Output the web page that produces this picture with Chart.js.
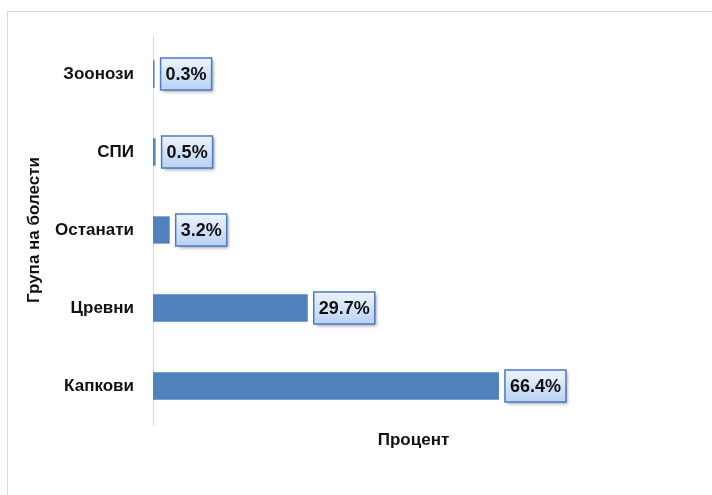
<!DOCTYPE html>
<html><head><meta charset="utf-8">
<script src="https://cdn.jsdelivr.net/npm/chart.js@4"></script>
<style>
html,body{margin:0;padding:0;background:#fff;}
#wrap{position:relative;width:712px;height:495px;overflow:hidden;}
#frame{position:absolute;left:7px;top:11px;width:800px;height:600px;border-left:1px solid #d9d9d9;border-top:1px solid #d9d9d9;}
canvas{position:absolute;left:0;top:0;}
</style></head>
<body><div id="wrap"><div id="frame"></div><canvas id="c" width="712" height="495"></canvas></div>
<script>
const categories = ["Зоонози", "СПИ", "Останати", "Цревни", "Капкови"];
const percentValues = [0.3, 0.5, 3.2, 29.7, 66.4];
const valueLabels = ["0.3%", "0.5%", "3.2%", "29.7%", "66.4%"];
const FONT = "'Liberation Sans', Arial, sans-serif";

const boxLabels = {
  id: 'boxLabels',
  afterDatasetsDraw(chart) {
    const ctx = chart.ctx;
    const meta = chart.getDatasetMeta(0);
    ctx.save();
    ctx.font = "bold 18px " + FONT;
    meta.data.forEach((bar, i) => {
      const text = valueLabels[i];
      const tw = ctx.measureText(text).width;
      const w = tw + 10, h = 32;
      const x = bar.x + 6, y = bar.y - h / 2;
      ctx.save();
      ctx.shadowColor = 'rgba(0,0,0,0.35)';
      ctx.shadowBlur = 3; ctx.shadowOffsetX = 2; ctx.shadowOffsetY = 2;
      const g = ctx.createLinearGradient(0, y, 0, y + h);
      g.addColorStop(0, '#eef4fd'); g.addColorStop(1, '#b9d1f3');
      ctx.fillStyle = g;
      ctx.fillRect(x, y, w, h);
      ctx.restore();
      ctx.strokeStyle = '#4a7bc4'; ctx.lineWidth = 1.5;
      ctx.strokeRect(x, y, w, h);
      ctx.fillStyle = '#111';
      ctx.textBaseline = 'middle'; ctx.textAlign = 'left';
      ctx.fillText(text, x + 5, bar.y + 1);
    });
    ctx.restore();
  }
};

new Chart(document.getElementById('c'), {
  type: 'bar',
  data: { labels: categories, datasets: [{ data: percentValues, backgroundColor: '#4f81bd', borderWidth: 0, barPercentage: 0.35, categoryPercentage: 1 }] },
  options: {
    indexAxis: 'y', responsive: false, animation: false,
    layout: { padding: { top: 35, right: 38, bottom: 40, left: 0 } },
    plugins: { legend: { display: false }, tooltip: { enabled: false } },
    scales: {
      x: { min: 0, max: 100, ticks: { display: false }, grid: { display: false, drawTicks: false }, border: { display: false },
           title: { display: true, text: 'Процент', color: '#111', font: { family: FONT, size: 17, weight: 'bold' }, padding: { top: 6, bottom: 4 } },
           afterFit(s) { s.height = 30; } },
      y: { grid: { display: false, drawTicks: false }, border: { display: true, color: '#d9d9d9', width: 1 },
           ticks: { color: '#111', font: { family: FONT, size: 17, weight: 'bold' }, padding: 19 },
           title: { display: true, text: 'Група на болести', color: '#111', font: { family: FONT, size: 17, weight: 'bold' }, padding: { top: 24, bottom: 0 } },
           afterFit(s) { s.width = 153; } }
    }
  },
  plugins: [boxLabels]
});
</script></body></html>
